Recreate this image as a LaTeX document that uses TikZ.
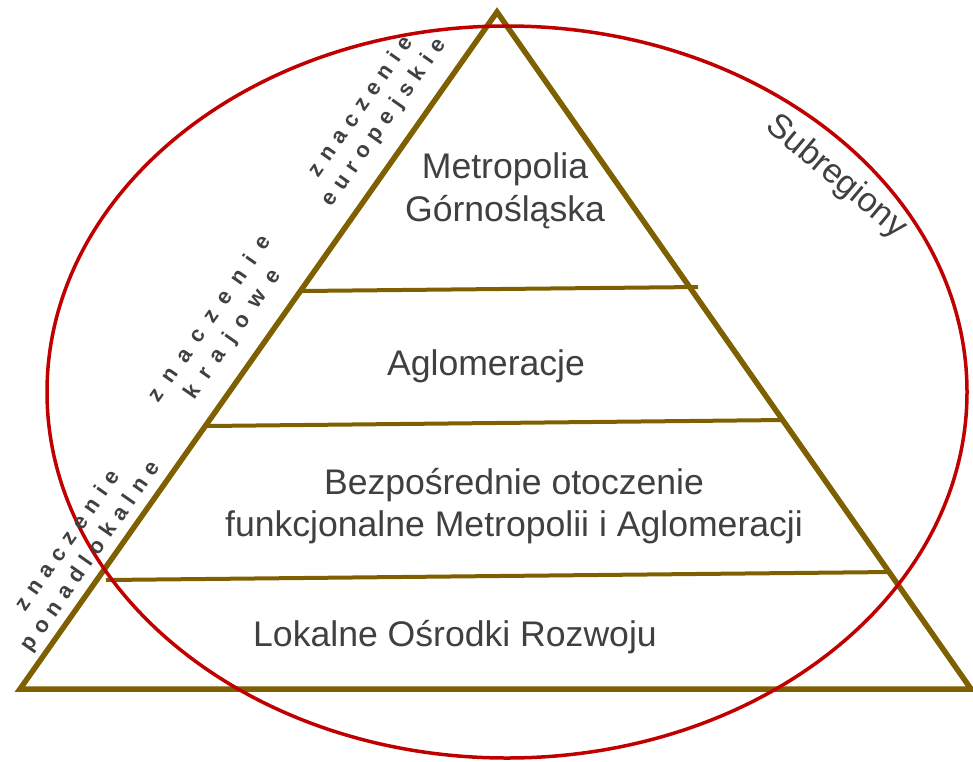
\documentclass[tikz,border=0pt]{standalone}
\usepackage{fontspec}
\setmainfont{Liberation Sans}
\newfontfamily\spacedfont[LetterSpace=35]{Liberation Sans}
\newfontfamily\widefont[LetterSpace=53]{Liberation Sans}
\definecolor{brn}{HTML}{7F6000}
\definecolor{redc}{HTML}{C00000}
\definecolor{txt}{HTML}{404040}
\begin{document}
\begin{tikzpicture}[x=1pt,y=-1pt,
 lvl/.style={text=txt,font=\fontsize{35.6}{42.5}\selectfont,align=center,inner sep=0pt},
 side/.style={text=txt,font=\spacedfont\bfseries\fontsize{22}{27.5}\selectfont,align=center,rotate=55,inner sep=0pt},
 sidewide/.style={side,font=\widefont\bfseries\fontsize{22}{27.5}\selectfont},
 subl/.style={text=txt,font=\fontsize{34}{40}\selectfont,rotate=-40,inner sep=0pt},
 tri/.style={draw=brn,line width=5.5pt,line join=miter},
 band/.style={draw=brn,line width=4pt},
 ring/.style={draw=redc,line width=3.5pt}]
\useasboundingbox (0,0) rectangle (973,761);
% triangle corners
\coordinate (apex) at (497,12);
\coordinate (bl) at (20,689);
\coordinate (br) at (971,689);
\draw[tri] (apex) -- (br) -- (bl) -- cycle;
% band lines
\coordinate (l1a) at (302,291);
\coordinate (l1b) at (698,287);
\coordinate (l2a) at (207,426);
\coordinate (l2b) at (784,420);
\coordinate (l3a) at (106,580);
\coordinate (l3b) at (891,572);
\draw[band] (l1a) -- (l1b);
\draw[band] (l2a) -- (l2b);
\draw[band] (l3a) -- (l3b);
% ellipse
\coordinate (ec) at (507,392);
\draw[ring] (ec) ellipse [x radius=460, y radius=366];
% level texts
\node[lvl] (metro) at (505,191) {Metropolia\\Górnośląska};
\node[lvl] (aglo) at (486,366) {Aglomeracje};
\node[lvl] (otocz) at (514,506) {Bezpośrednie otoczenie\\funkcjonalne Metropolii i Aglomeracji};
\node[lvl] (lokal) at (455,637) {Lokalne Ośrodki Rozwoju};
% side labels
\node[side] (euro) at (373,115) {znaczenie\\europejskie};
\node[sidewide] (kraj) at (222,327) {znaczenie\\krajowe};
\node[side] (pona) at (80,549) {znaczenie\\ponadlokalne};
% subregions
\node[subl] (subr) at (836,177) {Subregiony};
\end{tikzpicture}
\end{document}
